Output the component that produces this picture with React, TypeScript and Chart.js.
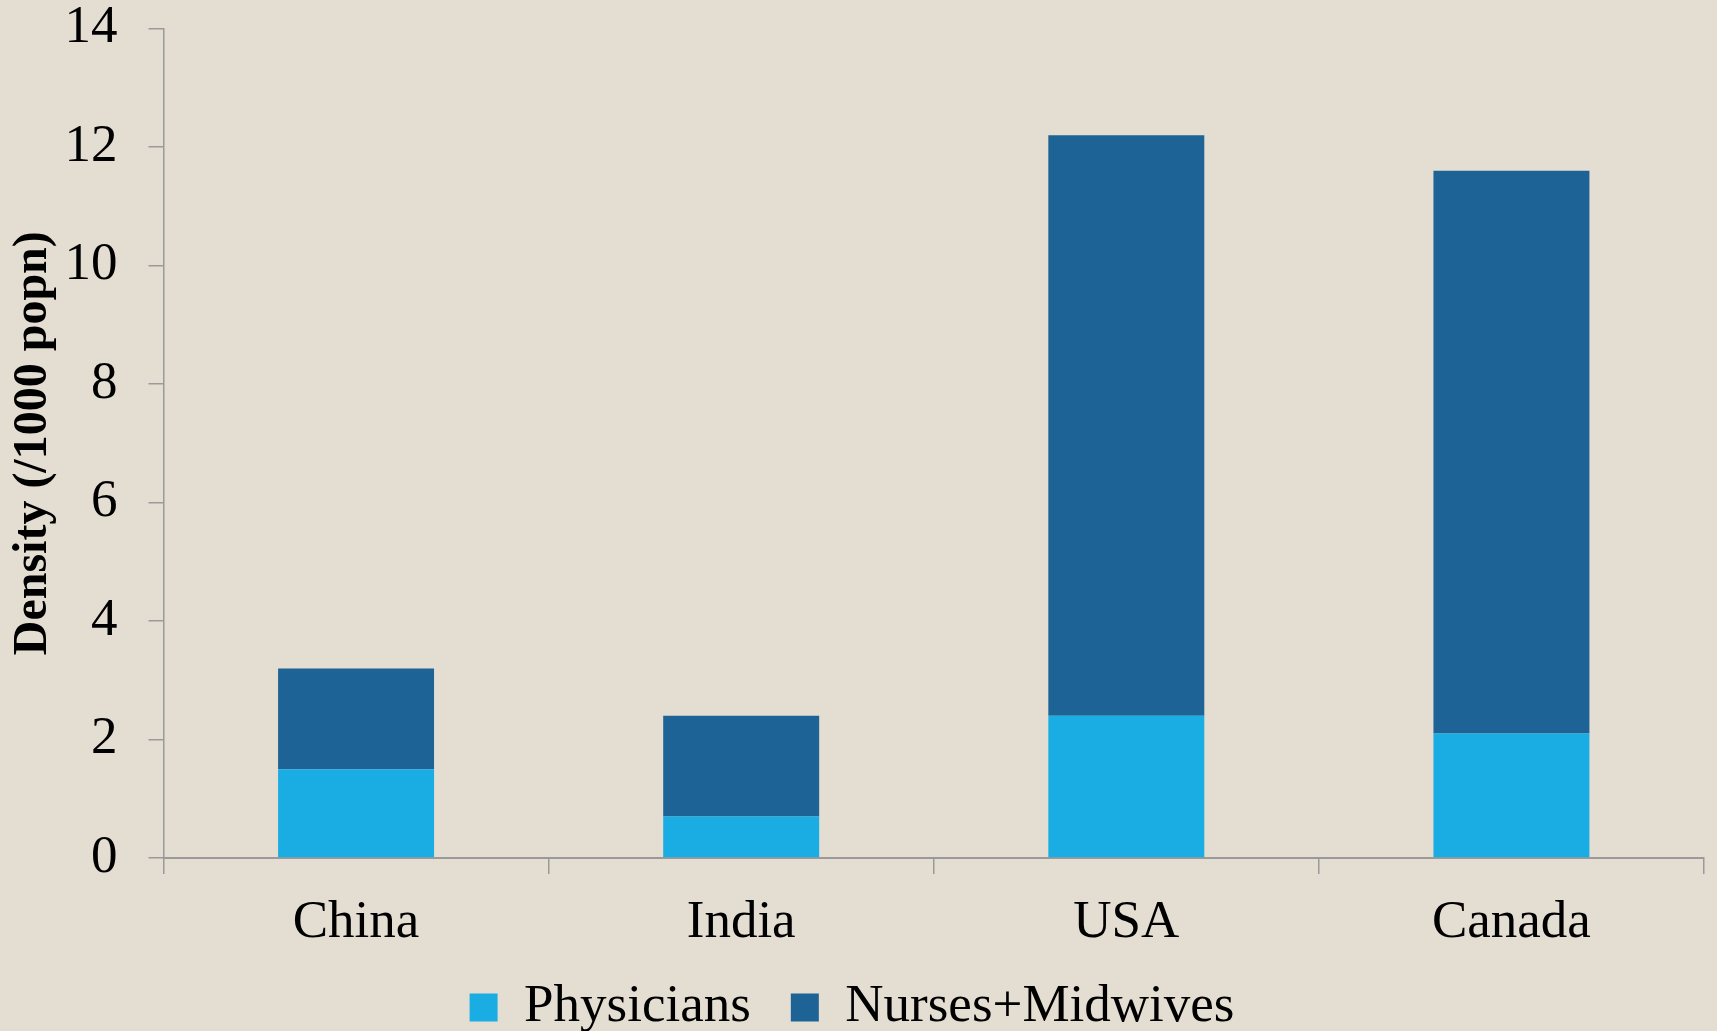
import React, { useEffect, useRef } from "react";
import { Chart, registerables } from "chart.js";

Chart.register(...registerables);

const categories = ["China", "India", "USA", "Canada"];
const physicians = [1.5, 0.7, 2.4, 2.1];
const nursesMidwives = [1.7, 1.7, 9.8, 9.5];
const yMin = 0;
const yMax = 14;
const yStep = 2;

const BG = "#E3DDD2";
const PHYS_COLOR = "#1AADE4";
const NURSE_COLOR = "#1D6395";
const AXIS_COLOR = "#9a9a9a";
const FONT = "'Liberation Serif', 'Times New Roman', serif";

const bgPlugin = {
  id: "bgFill",
  beforeDraw(chart: any) {
    const { ctx, width, height } = chart;
    ctx.save();
    ctx.fillStyle = BG;
    ctx.fillRect(0, 0, width, height);
    ctx.restore();
  },
};

export default function App() {
  const ref = useRef<HTMLCanvasElement | null>(null);

  useEffect(() => {
    if (!ref.current) return;
    const chart = new Chart(ref.current, {
      type: "bar",
      data: {
        labels: categories,
        datasets: [
          {
            label: "Physicians",
            data: physicians,
            backgroundColor: PHYS_COLOR,
            borderWidth: 0,
            barPercentage: 0.405,
            categoryPercentage: 1,
          },
          {
            label: "Nurses+Midwives",
            data: nursesMidwives,
            backgroundColor: NURSE_COLOR,
            borderWidth: 0,
            barPercentage: 0.405,
            categoryPercentage: 1,
          },
        ],
      },
      options: {
        responsive: false,
        animation: false,
        devicePixelRatio: 1,
        layout: { padding: { left: 0, right: 13, top: 28.5, bottom: -13 } },
        plugins: {
          legend: {
            position: "bottom",
            labels: {
              color: "#000",
              font: { family: FONT, size: 53, lineHeight: 1 },
              boxWidth: 28,
              boxHeight: 28,
              padding: 40,
            },
          },
          tooltip: { enabled: false },
        },
        scales: {
          x: {
            stacked: true,
            afterFit: (scale: any) => {
              scale.height = 83;
            },
            grid: {
              display: true,
              drawOnChartArea: false,
              drawTicks: true,
              tickLength: 16,
              color: AXIS_COLOR,
              lineWidth: 1.5,
              offset: true,
            },
            border: { display: true, color: AXIS_COLOR, width: 2 },
            ticks: {
              color: "#000",
              font: { family: FONT, size: 53, lineHeight: 1 },
              padding: 23,
            },
          },
          y: {
            stacked: true,
            min: yMin,
            max: yMax,
            afterFit: (scale: any) => {
              scale.width = 163.5;
              scale.paddingTop = 0;
              scale.paddingBottom = 0;
            },
            ticks: {
              stepSize: yStep,
              color: "#000",
              font: { family: FONT, size: 53, lineHeight: 1 },
              padding: 31,
            },
            grid: {
              display: true,
              drawOnChartArea: false,
              drawTicks: true,
              tickLength: 15,
              color: AXIS_COLOR,
              lineWidth: 1.5,
            },
            border: { display: true, color: AXIS_COLOR, width: 1.5 },
            title: {
              display: true,
              text: "Density (/1000 popn)",
              color: "#000",
              font: { family: FONT, size: 48, weight: "bold", lineHeight: 1 },
              padding: { top: 10, bottom: 0 },
            },
          },
        },
      },
      plugins: [bgPlugin],
    });
    return () => chart.destroy();
  }, []);

  return (
    <div
      style={{
        position: "fixed",
        left: 0,
        top: 0,
        width: 1717,
        height: 1031,
        background: BG,
        overflow: "hidden",
      }}
    >
      <canvas ref={ref} width={1717} height={1031} style={{ display: "block" }} />
    </div>
  );
}
